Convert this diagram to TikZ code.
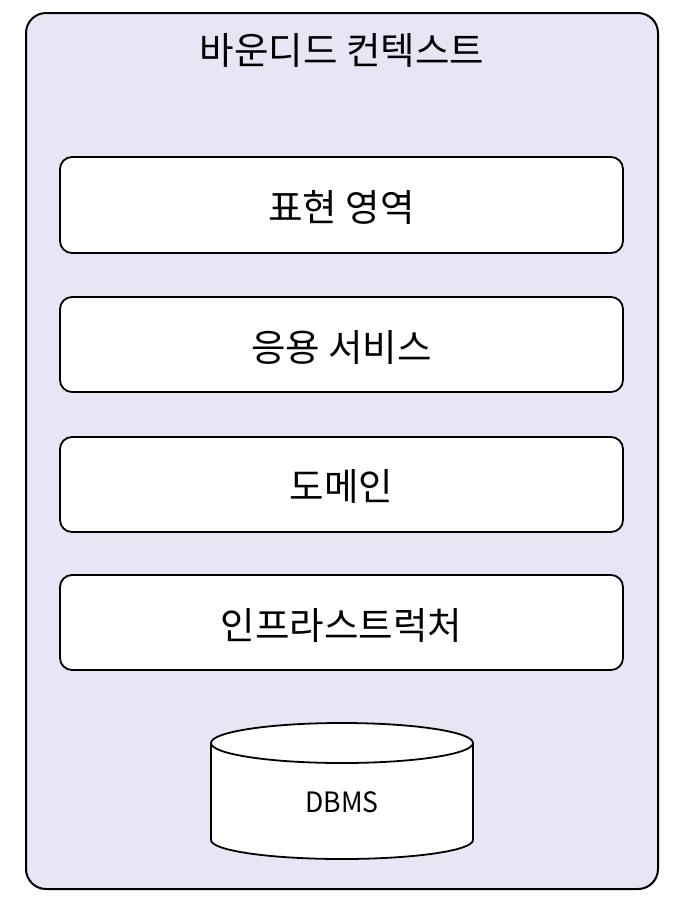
\documentclass[tikz,border=0pt]{standalone}
\usepackage{fontspec}
\setmainfont{Noto Sans CJK KR}
\definecolor{lav}{HTML}{E6E6F5}
\begin{document}
\begin{tikzpicture}[x=1pt,y=-1pt,
  layer/.style={draw=black,line width=1.8pt,fill=white,rounded corners=12pt},
  lbl/.style={font=\fontsize{37.5}{42}\selectfont}]
\useasboundingbox (0,0) rectangle (686,906);
\draw[line width=2pt,fill=lav,rounded corners=20pt] (26,13) rectangle (658,889);
\node[lbl] (title) at (342,50) {바운디드 컨텍스트};
\draw[layer] (60,157) rectangle (623,253);
\node[lbl] (l1) at (341.5,207) {표현 영역};
\draw[layer] (60,297) rectangle (623,392);
\node[lbl] (l2) at (341.5,347) {응용 서비스};
\draw[layer] (60,437) rectangle (623,532);
\node[lbl] (l3) at (341.5,486) {도메인};
\draw[layer] (60,575) rectangle (623,670);
\node[lbl] (l4) at (341.5,625) {인프라스트럭처};
% cylinder
\draw[line width=1.8pt,fill=white] (211,743) arc[start angle=180,end angle=0,x radius=131pt,y radius=20pt]
  -- (473,840) arc[start angle=0,end angle=-180,x radius=131pt,y radius=19pt] -- cycle;
\draw[line width=1.8pt] (211,743) arc[start angle=180,end angle=360,x radius=131pt,y radius=20pt];
\node[font=\fontsize{28}{32}\selectfont,xscale=0.95] (db) at (342,802) {DBMS};
\end{tikzpicture}
\end{document}
